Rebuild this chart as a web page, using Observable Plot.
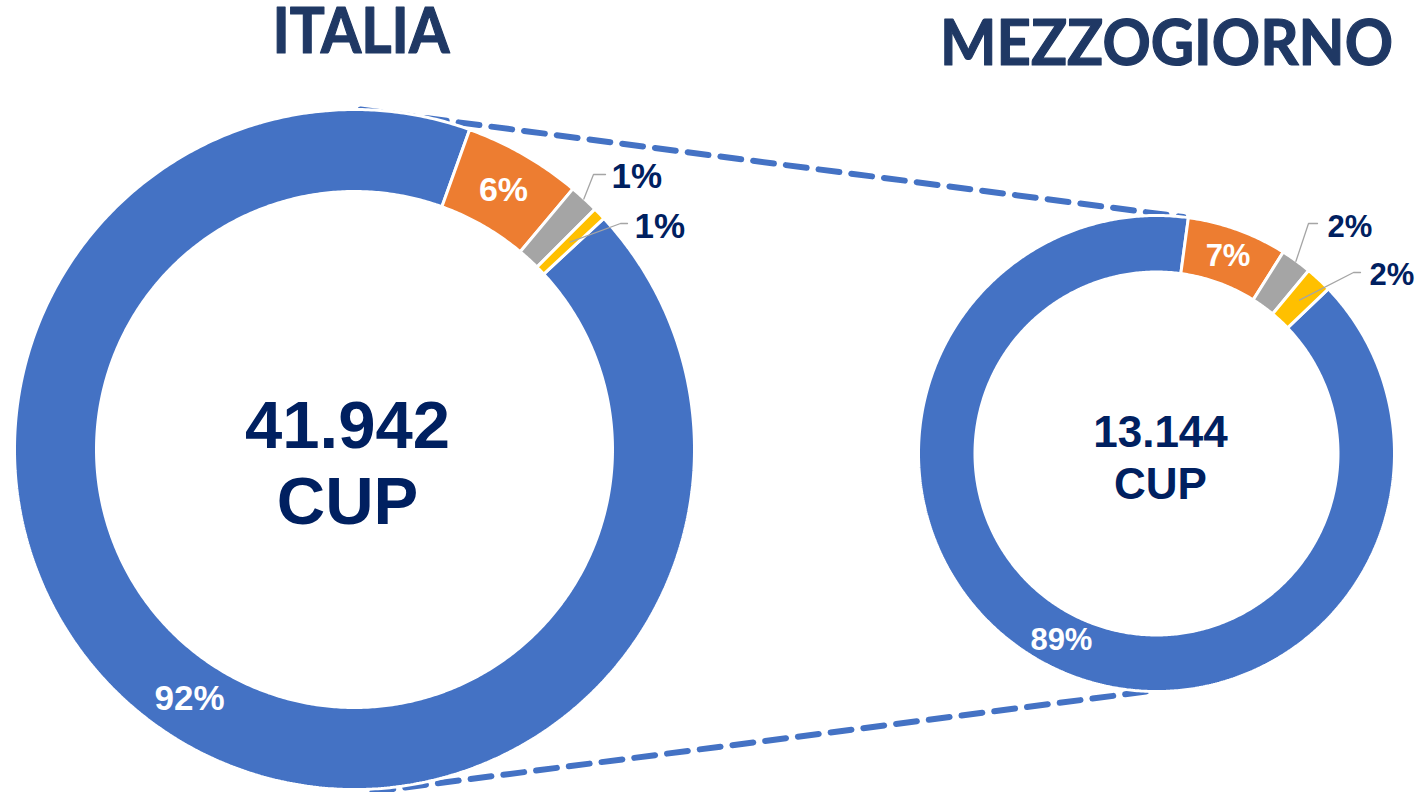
<!DOCTYPE html>
<html><head><meta charset="utf-8">
<script src="https://cdn.jsdelivr.net/npm/d3@7"></script>
<script src="https://cdn.jsdelivr.net/npm/@observablehq/plot@0.6"></script>
<style>html,body{margin:0;padding:0;background:#fff;overflow:hidden}</style>
</head><body><div id="chart"></div>
<script>
// ---- DATA ----
const panels = ["ITALIA", "MEZZOGIORNO"];
const totals = ["41.942", "13.144"];
const totalUnit = "CUP";
const categories = ["Categoria 1", "Categoria 2", "Categoria 3", "Categoria 4"];
const italiaValues = [92.4, 5.6, 1.4, 0.6];
const mezzogiornoValues = [89.3, 6.8, 2.1, 1.8];
const italiaLabels = ["92%", "6%", "1%", "1%"];
const mezzogiornoLabels = ["89%", "7%", "2%", "2%"];

// ---- STYLE / LAYOUT ----
const sliceColors = ["#4472C4", "#ED7D31", "#A5A5A5", "#FFC000"];
const insideLabel = [true, true, false, false];
const navy = "#002060";
const titleColor = "#1F3864";
const W = 1416, H = 792;
const layout = [
  {cx: 354, cy: 449, R: 340, r: 258, start: 47.16,
   title: {x: 360.5, y: 32.5, size: 63, len: 177},
   total: {y1: 426, y2: 502, x: 347, size: 67},
   labelSize: [35, 34, 35, 35],
   callouts: [null, null,
     {rad: 0.995, elbow: [593, 174], end: [605, 174], text: [611, 176]},
     {rad: 0.5, elbow: [620, 223], end: [627, 223], text: [634, 226]}],
   dashTop: {ang: 1, k: 1.0}, dashBottom: {ang: 177, k: 1.008}},
  {cx: 1156, cy: 453, R: 238, r: 181.5, start: 46.22,
   title: {x: 1166, y: 44.5, size: 63, len: 453},
   total: {y1: 432.5, y2: 484, x: 1160, size: 44},
   labelSize: [31, 31, 31, 31],
   callouts: [null, null,
     {rad: 0.99, elbow: [1308, 223], end: [1317, 223], text: [1327, 227]},
     {rad: 0.5, elbow: [1353, 272], end: [1360, 272], text: [1369, 275]}],
   dashTop: {ang: 6.5, k: 1.0}, dashBottom: {ang: 182, k: 1.0}}
];

const allValues = [italiaValues, mezzogiornoValues];
const allLabels = [italiaLabels, mezzogiornoLabels];

function polar(L, ang, rad) {
  const a = ang * Math.PI / 180;
  return [L.cx + rad * Math.sin(a), L.cy - rad * Math.cos(a)];
}

const slices = [];
allValues.forEach((vals, p) => {
  const L = layout[p];
  const total = d3.sum(vals);
  let a = L.start;
  vals.forEach((v, i) => {
    const span = v / total * 360;
    slices.push({p, i, a0: a, a1: a + span, label: allLabels[p][i], cat: categories[i]});
    a += span;
  });
});

function slicePoly(s) {
  const L = layout[s.p];
  const n = Math.max(2, Math.ceil((s.a1 - s.a0) / 0.5));
  const pts = [];
  for (let k = 0; k <= n; k++) { const a = s.a0 + (s.a1 - s.a0) * k / n; const [x, y] = polar(L, a, L.R); pts.push({x, y}); }
  for (let k = n; k >= 0; k--) { const a = s.a0 + (s.a1 - s.a0) * k / n; const [x, y] = polar(L, a, L.r); pts.push({x, y}); }
  return pts;
}

const marks = [];

// dashed connectors
const dashData = [];
["dashTop", "dashBottom"].forEach(key => {
  layout.forEach(L => {
    const d = L[key];
    const [x, y] = polar(L, d.ang, L.R * d.k);
    dashData.push({key, x, y});
  });
});
marks.push(Plot.line(dashData, {x: "x", y: "y", z: "key", stroke: "#4472C4", strokeWidth: 6, strokeDasharray: "21,12"}));

// slices
slices.forEach(s => {
  marks.push(Plot.line(slicePoly(s), {x: "x", y: "y", curve: "linear-closed", fill: sliceColors[s.i], stroke: "white", strokeWidth: 3, strokeLinejoin: "miter"}));
});

// inside labels
const inside = slices.filter(s => insideLabel[s.i]).map(s => {
  const L = layout[s.p];
  const [x, y] = polar(L, (s.a0 + s.a1) / 2, (L.R + L.r) / 2);
  return {x, y, label: s.label, size: L.labelSize[s.i]};
});
inside.forEach(d => marks.push(Plot.text([d], {x: "x", y: "y", text: "label", fill: "white", fontSize: d.size, fontWeight: "bold", fontFamily: "Liberation Sans, Arial, sans-serif"})));

// callouts
const leaderPts = [];
const calloutTexts = [];
slices.forEach(s => {
  const L = layout[s.p];
  const c = L.callouts[s.i];
  if (!c) return;
  const r0 = L.r + (L.R - L.r) * c.rad;
  const [x0, y0] = polar(L, (s.a0 + s.a1) / 2, r0);
  const z = s.p + "-" + s.i;
  leaderPts.push({z, x: x0, y: y0}, {z, x: c.elbow[0], y: c.elbow[1]}, {z, x: c.end[0], y: c.end[1]});
  calloutTexts.push({x: c.text[0], y: c.text[1], label: s.label, size: L.labelSize[s.i]});
});
marks.push(Plot.line(leaderPts, {x: "x", y: "y", z: "z", stroke: "#A5A5A5", strokeWidth: 1.3}));
calloutTexts.forEach(d => marks.push(Plot.text([d], {x: "x", y: "y", text: "label", fill: navy, fontSize: d.size, fontWeight: "bold", textAnchor: "start", fontFamily: "Liberation Sans, Arial, sans-serif"})));

// totals
layout.forEach((L, p) => {
  marks.push(Plot.text([{x: L.total.x, y: L.total.y1, t: totals[p]}, {x: L.total.x, y: L.total.y2, t: totalUnit}],
    {x: "x", y: "y", text: "t", fill: navy, fontSize: L.total.size, fontWeight: "bold", fontFamily: "Liberation Sans, Arial, sans-serif"}));
});

// titles
layout.forEach((L, p) => {
  marks.push(Plot.text([{x: L.title.x, y: L.title.y, t: panels[p]}],
    {x: "x", y: "y", text: "t", fill: titleColor, stroke: titleColor, strokeWidth: 1.2, fontSize: L.title.size, fontWeight: "bold", fontFamily: "Lato, Open Sans, sans-serif"}));
});

const chart = Plot.plot({
  width: W, height: H, margin: 0,
  x: {domain: [0, W], range: [0, W], axis: null},
  y: {domain: [0, H], range: [0, H], axis: null},
  style: {background: "white", overflow: "visible"},
  marks
});
document.getElementById("chart").appendChild(chart);

// fit titles to the measured widths
chart.querySelectorAll("text").forEach(t => {
  const idx = panels.indexOf(t.textContent.trim());
  if (idx >= 0) {
    t.setAttribute("textLength", layout[idx].title.len);
    t.setAttribute("lengthAdjust", "spacingAndGlyphs");
  }
});
</script>
</body></html>
